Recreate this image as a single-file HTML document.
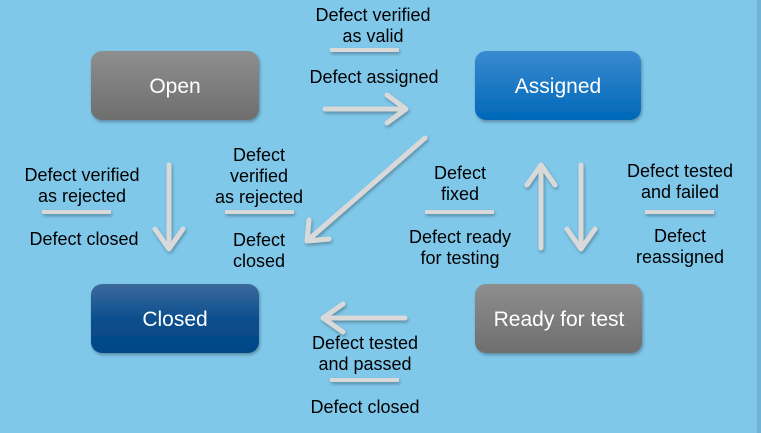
<!DOCTYPE html>
<html><head><meta charset="utf-8"><style>
html,body{margin:0;padding:0;background:#80c8ea;}
svg{display:block}
text{font-family:"Liberation Sans",Arial,sans-serif;}
</style></head><body>
<svg width="761" height="433" viewBox="0 0 761 433" xmlns="http://www.w3.org/2000/svg">
<defs>
<linearGradient id="g" x1="0" y1="0" x2="0" y2="1"><stop offset="0" stop-color="#8e8e8e"/><stop offset="1" stop-color="#6e6e6e"/></linearGradient>
<linearGradient id="b" x1="0" y1="0" x2="0" y2="1"><stop offset="0" stop-color="#3a8ad0"/><stop offset="1" stop-color="#0068b8"/></linearGradient>
<linearGradient id="d" x1="0" y1="0" x2="0" y2="1"><stop offset="0" stop-color="#3c6a9c"/><stop offset="0.5" stop-color="#0d4f8e"/><stop offset="1" stop-color="#004686"/></linearGradient>
<filter id="s" x="-10%" y="-10%" width="120%" height="130%"><feDropShadow dx="1" dy="2" stdDeviation="1.5" flood-color="#000" flood-opacity="0.3"/></filter>
</defs>
<rect x="0" y="0" width="761" height="433" fill="#80c8ea"/>
<rect x="757" y="0" width="4" height="433" fill="#6fb3d6"/>

<g filter="url(#s)">
<rect x="91" y="51" width="168" height="69" rx="11" fill="url(#g)"/>
<rect x="475" y="51" width="166" height="69" rx="11" fill="url(#b)"/>
<rect x="91" y="284" width="168" height="69" rx="11" fill="url(#d)"/>
<rect x="475" y="284" width="167" height="69" rx="11" fill="url(#g)"/>
</g>
<g fill="#fff" font-size="21" text-anchor="middle">
<text x="175" y="93">Open</text>
<text x="558" y="93">Assigned</text>
<text x="175" y="326">Closed</text>
<text x="559" y="326">Ready for test</text>
</g>

<g stroke="#d9d9d9" stroke-width="5" fill="none" stroke-linecap="round" stroke-linejoin="round" filter="url(#s)">
<path d="M325 109 H406 M387 95 L406 109 L387 123"/>
<path d="M425 138 L307 241 M309 220 L307 241 L329 239"/>
<path d="M169 165 V249 M155 229 L169 249 L183 229"/>
<path d="M541 248 V165 M527 185 L541 165 L555 185"/>
<path d="M581 165 V249 M567 229 L581 249 L595 229"/>
<path d="M405 318 H323 M343 304 L323 318 L343 332"/>
</g>

<g stroke="#d9d9d9" stroke-width="4" filter="url(#s)">
<line x1="330" y1="50" x2="399" y2="50"/>
<line x1="42" y1="212" x2="111" y2="212"/>
<line x1="225" y1="212" x2="294" y2="212"/>
<line x1="425" y1="212" x2="494" y2="212"/>
<line x1="645" y1="212" x2="714" y2="212"/>
<line x1="330" y1="380" x2="399" y2="380"/>
</g>

<g fill="#000" font-size="18" text-anchor="middle">
<text x="373" y="21">Defect verified</text>
<text x="373" y="42">as valid</text>
<text x="374" y="83">Defect assigned</text>
<text x="82" y="181">Defect verified</text>
<text x="82" y="202">as rejected</text>
<text x="84" y="245">Defect closed</text>
<text x="259" y="161">Defect</text>
<text x="259" y="182">verified</text>
<text x="259" y="203">as rejected</text>
<text x="259" y="246">Defect</text>
<text x="259" y="267">closed</text>
<text x="460" y="179">Defect</text>
<text x="460" y="200">fixed</text>
<text x="460" y="243">Defect ready</text>
<text x="460" y="264">for testing</text>
<text x="680" y="177">Defect tested</text>
<text x="680" y="198">and failed</text>
<text x="680" y="242">Defect</text>
<text x="680" y="263">reassigned</text>
<text x="365" y="349">Defect tested</text>
<text x="365" y="370">and passed</text>
<text x="365" y="413">Defect closed</text>
</g>
</svg>
</body></html>
